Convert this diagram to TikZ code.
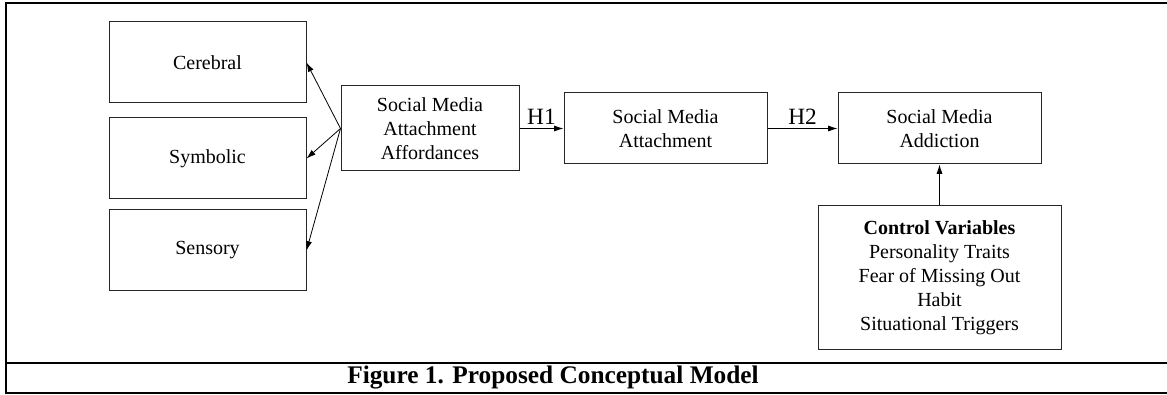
\documentclass[tikz,border=0pt]{standalone}
\usepackage{fontspec}
\setmainfont{Liberation Serif}
\usetikzlibrary{arrows.meta}
\begin{document}
\begin{tikzpicture}[x=0.75pt,y=-0.75pt,
  box/.style={draw=black!85, line width=0.75pt, align=center, inner sep=0pt,
    font=\fontsize{15}{18}\selectfont},
  frame/.style={line width=1.6pt, black},
  arr/.style={line width=0.6pt, -{Latex[length=7pt,width=4.5pt]}},
  lbl/.style={font=\fontsize{17.5}{20}\selectfont, inner sep=0pt}]
\useasboundingbox (0,0) rectangle (1167,395);
\draw[frame] (1167,3) -- (6,3) -- (6,393) -- (1167,393);
\draw[frame] (6,363) -- (1167,363);
\node[font=\fontsize{19}{22}\bfseries\selectfont, inner sep=0pt] (cap) at (553,378) {Figure 1. Proposed Conceptual Model};

\node[box, minimum width=147.75pt, minimum height=60.75pt] (cer) at (207.5,62.5) {Cerebral};
\node[box, minimum width=147.75pt, minimum height=60.75pt] (sym) at (207.5,158.5) {Symbolic};
\node[box, minimum width=147.75pt, minimum height=60.75pt] (sen) at (207.5,250.5) {Sensory};
\node[box, minimum width=133.5pt, minimum height=63.75pt] (smaa) at (430,128.5) {Social Media\\Attachment\\Affordances};
\node[box, minimum width=152.25pt, minimum height=53.25pt] (sma) at (665.5,128.5) {Social Media\\Attachment};
\node[box, minimum width=152.25pt, minimum height=53.25pt] (smad) at (939.5,128.5) {Social Media\\Addiction};
\node[box, minimum width=182.25pt, minimum height=107.25pt] (ctl) at (939.5,277.5) {\textbf{Control Variables}\\Personality Traits\\Fear of Missing Out\\Habit\\Situational Triggers};

\draw[arr] (smaa.west) -- (cer.east);
\draw[arr] (smaa.west) -- (sym.east);
\draw[arr] (smaa.west) -- (sen.east);
\draw[arr] (smaa.east) -- node[lbl, above=3pt] (h1) {H1} (sma.west);
\draw[arr] (sma.east) -- node[lbl, above=3pt] (h2) {H2} (smad.west);
\draw[arr] (ctl.north) -- (smad.south);
\end{tikzpicture}
\end{document}
